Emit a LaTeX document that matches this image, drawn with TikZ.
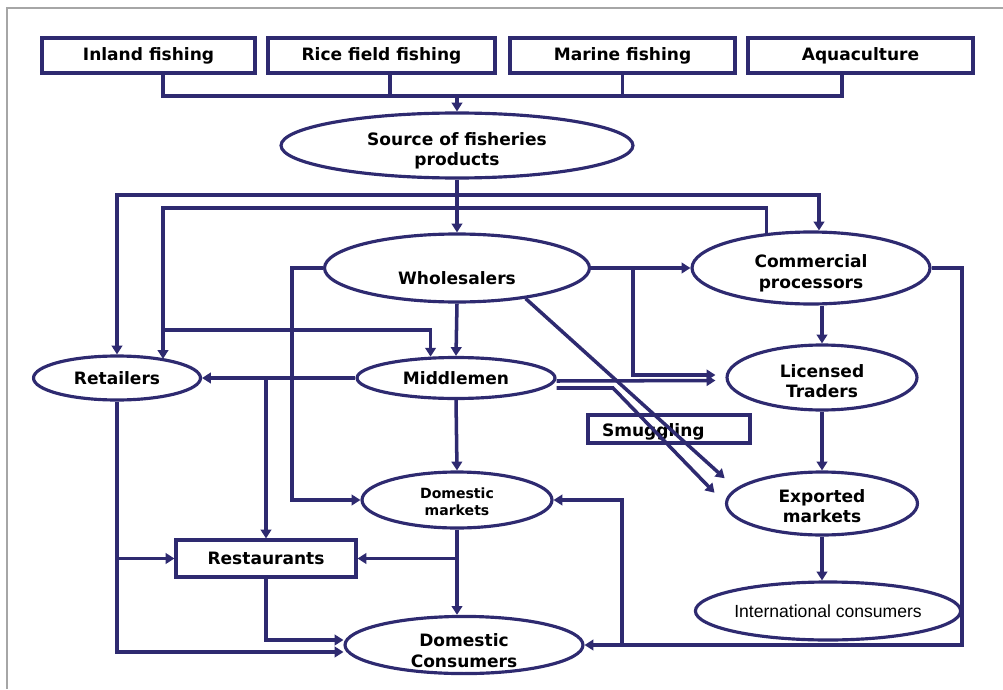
\documentclass[tikz,border=0pt]{standalone}
\usepackage{fontspec}
\setmainfont{DejaVu Sans}
\newfontfamily\arialfont{Liberation Sans}
\usepackage{xcolor}
\usepackage{tikz}
\usetikzlibrary{
    calc,
    arrows.meta,
    shapes.geometric
}
\definecolor{navy}{RGB}{46,42,112}
\newcommand{\lowtxt}[2][0.12cm]{\raisebox{-#1}[\height][\depth]{\begin{tabular}{@{}c@{}}#2\end{tabular}}}
\tikzset{
    flow/.style={draw=navy, line width=2pt},
    tobox/.style={flow, -{Triangle[length=5pt,width=6pt]}},
    rbox/.style={rectangle, draw=navy, line width=1.8pt, fill=white, inner sep=0pt,
        font=\fontsize{9.7}{11.5}\selectfont\bfseries},
    oval/.style={ellipse, draw=navy, line width=1.8pt, fill=white, inner sep=0pt, align=center,
        font=\fontsize{9.7}{11.5}\selectfont\bfseries}
}

\begin{document}
\begin{tikzpicture}[x=0.02cm, y=-0.02cm]
        \useasboundingbox (0,0) rectangle (1003,689);
        \draw[gray!70, line width=1.2pt] (7,689) -- (7,8) -- (1003,8);

        \node[rbox, minimum width=4.26cm, minimum height=0.7cm] (inl) at (148.5,55.5) {Inland fishing};
        \node[rbox, minimum width=4.54cm, minimum height=0.7cm] (rice) at (381.5,55.5) {Rice field fishing};
        \node[rbox, minimum width=4.5cm, minimum height=0.7cm] (mar) at (622.5,55.5) {Marine fishing};
        \node[rbox, minimum width=4.5cm, minimum height=0.7cm] (aqu) at (860.5,55.5) {Aquaculture};

        \node[oval, minimum width=7.04cm, minimum height=1.3cm] (src) at (457,145.5) {\lowtxt{Source of fisheries\\products}};
        \node[oval, minimum width=5.3cm, minimum height=1.36cm] (whl) at (457,268) {\lowtxt[0.24cm]{Wholesalers}};
        \node[oval, minimum width=4.76cm, minimum height=1.44cm] (com) at (811,268) {\lowtxt{Commercial\\processors}};
        \node[oval, minimum width=3.96cm, minimum height=0.82cm] (mid) at (456,378) {\lowtxt[0.04cm]{Middlemen}};
        \node[oval, minimum width=3.34cm, minimum height=0.88cm] (ret) at (117,378) {Retailers};
        \node[oval, minimum width=3.8cm, minimum height=1.3cm] (lic) at (822,377.5) {\lowtxt{Licensed\\Traders}};
        \node[rbox, minimum width=3.24cm, minimum height=0.56cm, inner xsep=0.28cm,
            text width=2.68cm, align=left] (smg) at (669,429) {\lowtxt[0.06cm]{Smuggling}};
        \node[oval, minimum width=3.8cm, minimum height=1.12cm,
            font=\fontsize{8}{9.6}\selectfont\bfseries] (dmk) at (457,500) {\lowtxt[0.08cm]{Domestic\\markets}};
        \node[oval, minimum width=3.82cm, minimum height=1.26cm] (exm) at (822,503.5) {\lowtxt[0.1cm]{Exported\\markets}};
        \node[rbox, minimum width=3.6cm, minimum height=0.74cm] (rst) at (266,558.5) {Restaurants};
        \node[oval, minimum width=4.76cm, minimum height=1.12cm] (dco) at (464,645) {\lowtxt[0.16cm]{Domestic\\Consumers}};
        \node[oval, minimum width=4.58cm, minimum height=1.16cm,
            font=\arialfont\fontsize{10}{12}\selectfont] (int) at (828,611) {International consumers};

        % sources into one bus
        \coordinate (busl) at (163,96);
        \coordinate (busr) at (842,96);
        \draw[flow] (inl.south -| busl) -- (busl) -- (busr) -- (aqu.south -| busr);
        \draw[flow] ([xshift=0.17cm]rice.south) coordinate (rs) -- (rs |- busl);
        \draw[flow] (mar.south) -- (mar.south |- busl);
        \draw[tobox] (src.north |- busl) -- (src.north);

        \draw[tobox] (src.south) -- (whl.north);
        \coordinate (s1) at (457,195);
        \draw[tobox] (s1) -| (ret.north);
        \draw[tobox] (s1) -| ([xshift=0.16cm]com.north);
        \coordinate (s2) at (163,208);
        \draw[tobox] (com.142) |- (s2) -- (s2 |- ret.21);
        \coordinate (s3) at (163,330);
        \draw[tobox] (s3) -| (mid.140);

        \draw[tobox] (whl.south) -- (mid.north);
        \draw[tobox] (whl.east) -- (com.west);
        \coordinate (s4) at (633,268);
        \draw[tobox, shorten >=0.2cm] (s4) |- ([yshift=0.05cm]lic.west);
        \draw[tobox, shorten >=0.2cm] ([yshift=-0.06cm]mid.east) -- ([yshift=-0.06cm]lic.west);

        % smuggling routes
        \coordinate (m1) at (613,388);
        \draw[tobox, shorten >=0.3cm] (mid.east |- m1) -- (m1) -- (exm.west);
        \draw[tobox, shorten >=0.3cm] (whl.-24) -- (exm.170);

        \draw[tobox] (mid.west) -- (ret.east);
        \draw[tobox] (mid.west -| rst.north) -- (rst.north);
        \coordinate (w1) at (292,268);
        \draw[tobox] (whl.west) -- (w1) |- (dmk.west);
        \draw[tobox] (mid.south) -- (dmk.north);

        \draw[tobox] (ret.south) |- ([yshift=-0.14cm]dco.west);
        \draw[tobox] (ret.south |- rst.west) -- (rst.west);
        \draw[tobox] (rst.south) |- ([yshift=0.1cm]dco.west);
        \draw[tobox] (dmk.south) -- (dmk.south |- dco.north);
        \draw[tobox] (dmk.south |- rst.east) -- (rst.east);

        \coordinate (c1) at (962,268);
        \draw[tobox] (com.east) -- (c1) |- (dco.east);
        \coordinate (c2) at (622,645);
        \draw[tobox] (c2) |- (dmk.east);

        \draw[tobox] (lic.north |- com.south) -- (lic.north);
        \draw[tobox] (lic.south) -- (exm.north);
        \draw[tobox] (exm.south) -- (exm.south |- int.north);
    \end{tikzpicture}
\end{document}
